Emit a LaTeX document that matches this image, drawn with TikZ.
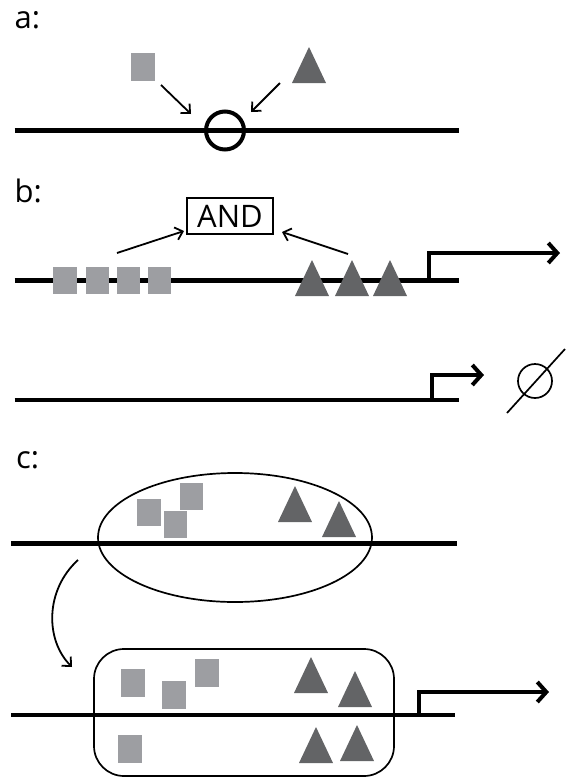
\documentclass[tikz,border=0pt]{standalone}
\usepackage{fontspec}
\setmainfont{Open Sans}
\usetikzlibrary{arrows.meta,shapes.geometric}
\definecolor{sqgray}{HTML}{9D9EA2}
\definecolor{trigray}{HTML}{636466}
\begin{document}
\begin{tikzpicture}[x=1pt,y=-1pt,
  dna/.style={line width=4.8pt},
  thinline/.style={line width=1.7pt},
  thinarrow/.style={line width=1.8pt,-{Straight Barb[length=7pt,width=13pt]}},
  prom/.style={line width=4pt,line join=miter,-{Straight Barb[length=9pt,width=20pt]}},
  sq/.style={fill=sqgray,minimum width=23.5pt,minimum height=27.5pt,inner sep=0pt,outer sep=0pt},
  lbl/.style={font=\fontsize{31}{31}\selectfont,inner sep=0pt,anchor=base west},
  tri/.pic={\fill[trigray] (-17,0) -- (0,-36) -- (17,0) -- cycle;},
]
\useasboundingbox (0,0) rectangle (567,780);

% ---------------- panel a
\node[lbl] (la) at (14.5,28) {a:};
\coordinate (aL) at (14.5,130.5);
\coordinate (aR) at (459,130.5);
\draw[dna] (aL) -- (aR);
\node[circle,draw,line width=4pt,minimum size=38pt,inner sep=0pt] (site) at (225,130.5) {};
\node[sq] (sqa) at (143,67) {};
\pic at (309,83) {tri};
\coordinate (a1s) at (161,85);
\coordinate (a1e) at (191,114);
\coordinate (a2s) at (280,83);
\coordinate (a2e) at (251,112);
\draw[thinarrow] (a1s) -- (a1e);
\draw[thinarrow] (a2s) -- (a2e);

% ---------------- panel b
\node[lbl] (lb) at (14.5,202) {b:};
\coordinate (b1L) at (14.5,280.5);
\coordinate (b1R) at (459,280.5);
\draw[dna] (b1L) -- (b1R);
\node[sq] (sb1) at (65,280.5) {};
\node[sq] (sb2) at (97.5,280.5) {};
\node[sq] (sb3) at (128.5,280.5) {};
\node[sq] (sb4) at (159.5,280.5) {};
\pic at (312,296) {tri};
\pic at (352,296) {tri};
\pic at (390,296) {tri};
\node[draw,line width=1.6pt,minimum width=86pt,minimum height=36pt,inner sep=0pt,
      font=\fontsize{31}{31}\selectfont] (and) at (230,216) {AND};
\coordinate (b1s) at (117,253);
\coordinate (b1e) at (184,231);
\coordinate (b2s) at (348,254);
\coordinate (b2e) at (282,232);
\draw[thinarrow] (b1s) -- (b1e);
\draw[thinarrow] (b2s) -- (b2e);
\coordinate (p1a) at (429,280.5);
\coordinate (p1b) at (560,253);
\draw[prom] (p1a) |- (p1b);

\coordinate (b2L) at (14.5,400);
\coordinate (b2R) at (459,400);
\draw[dna] (b2L) -- (b2R);
\coordinate (p2a) at (432,400);
\coordinate (p2b) at (484,375);
\draw[prom] (p2a) |- (p2b);
\node[circle,draw,line width=1.7pt,minimum size=34pt,inner sep=0pt] (null) at (535,381) {};
\coordinate (n1) at (507,413);
\coordinate (n2) at (565,349);
\draw[thinline] (n1) -- (n2);

% ---------------- panel c
\node[lbl] (lc) at (16,468) {c:};
\coordinate (c1L) at (11,543.5);
\coordinate (c1R) at (457,543.5);
\draw[dna] (c1L) -- (c1R);
\node[ellipse,draw,line width=1.7pt,minimum width=274pt,minimum height=129pt,inner sep=0pt] (ell) at (235,537.5) {};
\node[sq] (sc1) at (149,512.5) {};
\node[sq] (sc2) at (191.5,496.5) {};
\node[sq] (sc3) at (175.5,524.5) {};
\pic at (295,522) {tri};
\pic at (339,537) {tri};

\coordinate (cs) at (78,560);
\coordinate (ce) at (72,667);
\draw[thinarrow] (cs) .. controls (45,590) and (45,640) .. (ce);

\coordinate (c2L) at (11,715);
\coordinate (c2R) at (455,715);
\draw[dna] (c2L) -- (c2R);
\node[draw,line width=1.7pt,rounded corners=30pt,minimum width=300pt,minimum height=127pt,inner sep=0pt] (box) at (244,712.5) {};
\node[sq] (sd1) at (133,683) {};
\node[sq] (sd2) at (174,695) {};
\node[sq] (sd3) at (207,673) {};
\node[sq] (sd4) at (130,749) {};
\pic at (311,693) {tri};
\pic at (355,707) {tri};
\pic at (316,763) {tri};
\pic at (357,761) {tri};
\coordinate (p3a) at (419,715);
\coordinate (p3b) at (549,692);
\draw[prom] (p3a) |- (p3b);
\end{tikzpicture}
\end{document}
